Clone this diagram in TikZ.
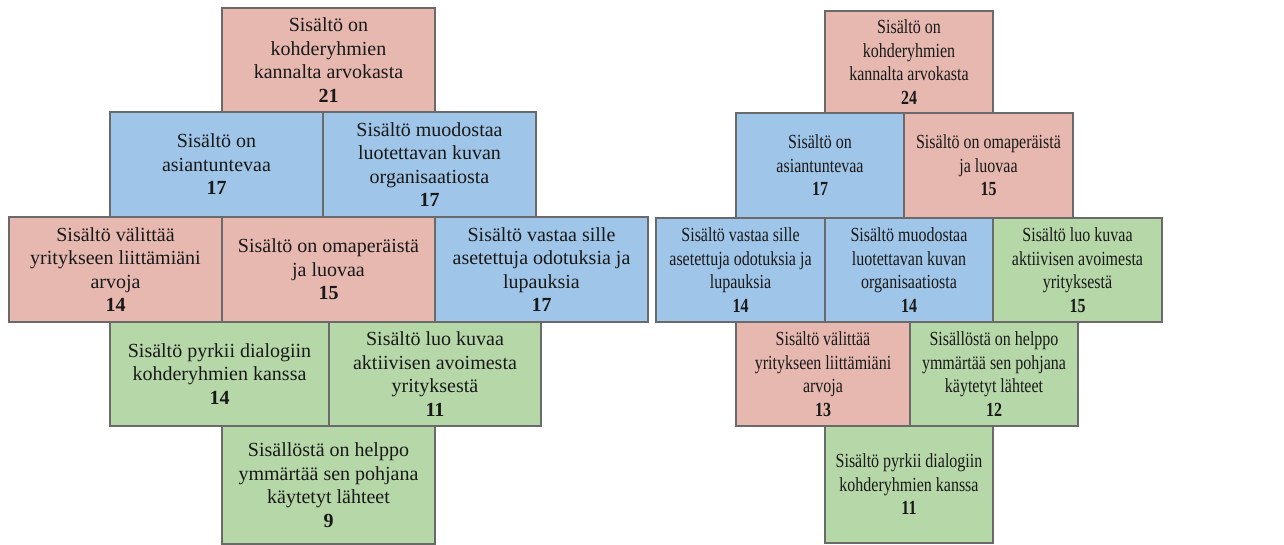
\documentclass[tikz,border=0pt]{standalone}
\usepackage{fontspec}
\setmainfont{Liberation Serif}
\newfontfamily\wideserif{Liberation Serif}
\newfontfamily\narrowserif[FakeStretch=0.8]{Liberation Serif}
\definecolor{cpink}{HTML}{E6B8AF}
\definecolor{cblue}{HTML}{9FC5E8}
\definecolor{cgreen}{HTML}{B6D7A8}
\definecolor{cedge}{HTML}{6A6A6A}
\tikzset{
  cellbox/.style={draw=cedge, line width=1.1pt, rectangle, inner sep=0pt, outer sep=0pt,
    align=center, text=black!90, font=\fontsize{20}{23.5}\selectfont\wideserif},
  narrowcell/.style={cellbox, font=\fontsize{20}{23.5}\selectfont\narrowserif},
}
\newcommand\mycell[7][cellbox]{%
  \node[#1, fill=#7, minimum width={(#5-#3)*1pt}, minimum height={(#6-#4)*1pt}]
    (#2) at ({(#3+#5)/2},{(#4+#6)/2}) {\mycelltext};}
\begin{document}
\begin{tikzpicture}[x=1pt,y=-1pt]
\useasboundingbox (0,0) rectangle (1284,545);
% left pyramid
\def\mycelltext{Sisältö on\\kohderyhmien\\kannalta arvokasta\\\textbf{21}}
\mycell{L1}{222}{8}{435}{112}{cpink}
\def\mycelltext{Sisältö on\\asiantuntevaa\\\textbf{17}}
\mycell{L2a}{110}{112}{323}{217}{cblue}
\def\mycelltext{Sisältö muodostaa\\luotettavan kuvan\\organisaatiosta\\\textbf{17}}
\mycell{L2b}{323}{112}{536}{217}{cblue}
\def\mycelltext{Sisältö välittää\\yritykseen liittämiäni\\arvoja\\\textbf{14}}
\mycell{L3a}{9}{217}{222}{322}{cpink}
\def\mycelltext{Sisältö on omaperäistä\\ja luovaa\\\textbf{15}}
\mycell{L3b}{222}{217}{435}{322}{cpink}
\def\mycelltext{Sisältö vastaa sille\\asetettuja odotuksia ja\\lupauksia\\\textbf{17}}
\mycell{L3c}{435}{217}{648}{322}{cblue}
\def\mycelltext{Sisältö pyrkii dialogiin\\kohderyhmien kanssa\\\textbf{14}}
\mycell{L4a}{110}{322}{329}{426}{cgreen}
\def\mycelltext{Sisältö luo kuvaa\\aktiivisen avoimesta\\yrityksestä\\\textbf{11}}
\mycell{L4b}{329}{322}{541}{426}{cgreen}
\def\mycelltext{Sisällöstä on helppo\\ymmärtää sen pohjana\\käytetyt lähteet\\\textbf{9}}
\mycell{L5}{222}{426}{435}{544}{cgreen}
% right pyramid
\def\mycelltext{Sisältö on\\kohderyhmien\\kannalta arvokasta\\\textbf{24}}
\mycell[narrowcell]{R1}{825}{11}{993}{113}{cpink}
\def\mycelltext{Sisältö on\\asiantuntevaa\\\textbf{17}}
\mycell[narrowcell]{R2a}{736}{113}{904}{218}{cblue}
\def\mycelltext{Sisältö on omaperäistä\\ja luovaa\\\textbf{15}}
\mycell[narrowcell]{R2b}{904}{113}{1073}{218}{cpink}
\def\mycelltext{Sisältö vastaa sille\\asetettuja odotuksia ja\\lupauksia\\\textbf{14}}
\mycell[narrowcell]{R3a}{656}{218}{825}{322}{cblue}
\def\mycelltext{Sisältö muodostaa\\luotettavan kuvan\\organisaatiosta\\\textbf{14}}
\mycell[narrowcell]{R3b}{825}{218}{993}{322}{cblue}
\def\mycelltext{Sisältö luo kuvaa\\aktiivisen avoimesta\\yrityksestä\\\textbf{15}}
\mycell[narrowcell]{R3c}{993}{218}{1162}{322}{cgreen}
\def\mycelltext{Sisältö välittää\\yritykseen liittämiäni\\arvoja\\\textbf{13}}
\mycell[narrowcell]{R4a}{736}{322}{910}{426}{cpink}
\def\mycelltext{Sisällöstä on helppo\\ymmärtää sen pohjana\\käytetyt lähteet\\\textbf{12}}
\mycell[narrowcell]{R4b}{910}{322}{1078}{426}{cgreen}
\def\mycelltext{Sisältö pyrkii dialogiin\\kohderyhmien kanssa\\\textbf{11}}
\mycell[narrowcell]{R5}{825}{426}{993}{543}{cgreen}
\end{tikzpicture}
\end{document}
